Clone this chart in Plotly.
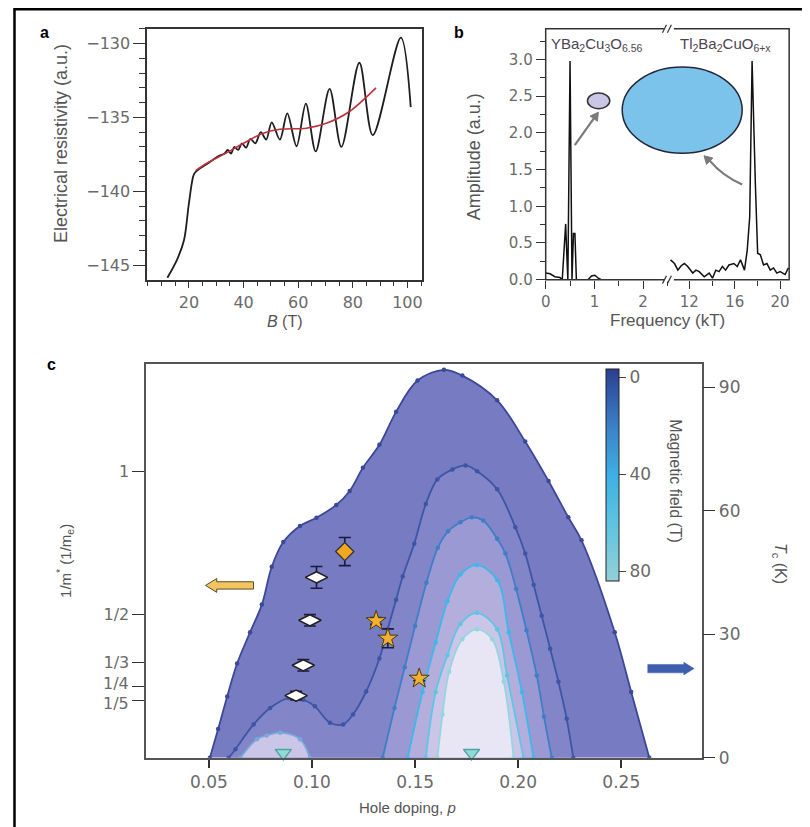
import math
import plotly.graph_objects as go

W, H = 810, 827
OFF = 8  # the page body margin shifts the figure by this many pixels
def X(px): return (px - OFF) / W
def Y(py): return 1 - (py - OFF) / H

# ---------------- data: panel a (resistivity vs field) ----------------
res_B = [12.1, 15.7, 18.2, 20.0, 21.8, 23.0, 27.0, 31.0, 33.0, 34.2, 35.4, 36.6, 38.0, 39.4, 40.9,
         42.5, 44.3, 46.3, 48.3, 50.3, 53.3, 56.0, 59.4, 62.8, 66.4, 71.5, 75.8, 82.4, 87.3, 97.6, 101.2]
res_val = [-145.85, -144.6, -143.3, -140.8, -138.85, -138.6, -138.1, -137.6, -137.45, -137.2, -137.45,
           -137.0, -137.2, -136.75, -137.05, -136.45, -136.75, -136.0, -136.5, -135.33, -136.5, -134.73,
           -136.95, -134.07, -137.3, -133.07, -137.0, -131.3, -136.2, -129.6, -134.3]
bg_B = [22.4, 27.0, 32.7, 40.0, 46.7, 53.3, 63.0, 70.3, 78.8, 88.5]
bg_val = [-138.6, -138.05, -137.5, -136.75, -136.1, -135.8, -135.73, -135.4, -134.6, -133.0]
a_xticks = [20, 40, 60, 80, 100]
a_yticks = [-145, -140, -135, -130]

# ---------------- data: panel b (FFT amplitude) ----------------
fft_lo_f = [0, 0.09, 0.19, 0.29, 0.34, 0.38, 0.41, 0.43, 0.455, 0.50, 0.54, 0.57, 0.60, 0.63,
            0.87, 0.94, 1.01, 1.08, 1.14, 2.6]
fft_lo_amp = [0.09, 0.08, 0.04, 0.03, 0.0, 0.40, 0.76, 0.40, 0.0, 2.98, 0.0, 0.63, 0.63, 0.0,
              0.0, 0.05, 0.06, 0.02, 0.0, 0.0]
fft_hi_f = [10.34, 10.69, 10.99, 11.28, 11.56, 11.86, 12.3, 12.58, 12.87, 13.31, 13.75, 14.04, 14.33,
            14.62, 14.91, 15.2, 15.49, 15.93, 16.22, 16.51, 16.86, 17.1, 17.32, 17.53, 17.82, 18.02,
            18.26, 18.54, 18.84, 19.13, 19.42, 19.71, 20.0, 20.44, 20.73]
fft_hi_amp = [0.27, 0.22, 0.13, 0.19, 0.22, 0.18, 0.09, 0.13, 0.11, 0.04, 0.09, 0.02, 0.13, 0.11, 0.18,
              0.13, 0.20, 0.22, 0.18, 0.27, 0.13, 0.40, 0.85, 2.98, 1.30, 0.36, 0.34, 0.20, 0.22, 0.13,
              0.16, 0.09, 0.11, 0.07, 0.16]
b_yticks = [0.0, 0.5, 1.0, 1.5, 2.0, 2.5, 3.0]
b_lo_ticks = [0, 1, 2]
b_hi_ticks = [12, 16, 20]

# ---------------- data: panel c (phase diagram) ----------------
c0_p = [0.0505, 0.0545, 0.0589, 0.0637, 0.0700, 0.0757, 0.0805, 0.0861, 0.0942, 0.1022, 0.1118, 0.1183,
        0.1247, 0.1327, 0.1408, 0.1512, 0.1640, 0.1729, 0.1898, 0.2034, 0.2147, 0.2243, 0.2307, 0.2468,
        0.2548, 0.2636]
c0_tc = [0, 7, 14.9, 22.9, 30.5, 37.2, 46.4, 52.4, 56.3, 58.3, 61.4, 64.8, 70.4, 76, 84, 91.6, 94.2,
         92.8, 86.8, 76.8, 67.2, 58.4, 52.8, 30.5, 16, 0]
c10_p = [0.0596, 0.0629, 0.0717, 0.0797, 0.0886, 0.0958, 0.1014, 0.1087, 0.1151, 0.1199, 0.1263, 0.1327,
         0.1367, 0.1408, 0.1440, 0.1496, 0.1552, 0.1608, 0.1681, 0.1745, 0.1801, 0.1898, 0.1986, 0.2034,
         0.2075, 0.2114, 0.2155, 0.2195, 0.2235, 0.2267]
c10_tc = [0, 2.1, 8.1, 12.1, 14.5, 14.1, 12.5, 8.5, 8.1, 10.5, 16.1, 24.1, 31.2, 38.4, 44, 52, 61.6,
          67.6, 70, 71, 69.6, 65.2, 56, 49.6, 42, 34.5, 26.5, 18.5, 9.5, 0]
c20_p = [0.1343, 0.1400, 0.1450, 0.1500, 0.1555, 0.1610, 0.1660, 0.1720, 0.1775, 0.1830, 0.1898,
         0.1938, 0.1990, 0.2040, 0.2090, 0.2125, 0.2163]
c20_tc = [0, 12.1, 22, 32, 42.5, 51, 55, 57.2, 58.4, 57.6, 53.2, 49.6, 41, 31, 20, 10, 0]
c20L_p = [0.0653, 0.0733, 0.0781, 0.0846, 0.0942, 0.0990]
c20L_tc = [0, 4.5, 5.4, 6.1, 4.5, 0]
c40_p = [0.1464, 0.1536, 0.1600, 0.1657, 0.1720, 0.1800, 0.1898, 0.1954, 0.2018, 0.2074]
c40_tc = [0, 16, 28, 38, 44.5, 46.8, 43.2, 30.5, 16, 0]
c60_p = [0.1552, 0.1600, 0.1657, 0.1720, 0.1800, 0.1898, 0.1946, 0.2026]
c60_tc = [0, 16, 24.9, 32.5, 35.2, 31.2, 20, 0]
c80_p = [0.1608, 0.1633, 0.1665, 0.1729, 0.1800, 0.1874, 0.1930, 0.1978]
c80_tc = [0, 10.5, 20.9, 28.8, 31.2, 28.8, 18.5, 0]

mass_p = [0.1022, 0.0990, 0.0958, 0.0923]          # white diamonds
mass_inv = [0.630, 0.480, 0.323, 0.217]
mass_err = [0.038, 0.02, 0.02, 0.015]
mass2_p = [0.1159]                                 # orange diamond
mass2_inv = [0.720]
mass2_err = [0.049]
star_p = [0.1311, 0.1368, 0.1520]                  # orange stars
star_inv = [0.478, 0.417, 0.277]
star_err = [0.012, 0.033, 0.008]
tri_p = [0.0861, 0.1774]                           # zero-Tc markers
tri_tc = [1.2, 1.2]

c_xticks = [0.05, 0.10, 0.15, 0.20, 0.25]
c_xlabels = ["0.05", "0.10", "0.15", "0.20", "0.25"]
tc_ticks = [0, 30, 60, 90]
m_ticks = [1, 1/2, 1/3, 1/4, 1/5]
m_labels = ["1", "1/2", "1/3", "1/4", "1/5"]
field_ticks = [0, 40, 80]

# ---------------- styles ----------------
TICKF = dict(family="DejaVu Sans", size=16, color="#6a6a6a")
TICKF_B = dict(family="DejaVu Sans", size=15, color="#6a6a6a")
TICKF_C = dict(family="DejaVu Sans", size=17, color="#6a6a6a")
TICKF_CL = dict(family="DejaVu Sans", size=16, color="#6a6a6a")
def TF(size): return dict(family="Liberation Sans", size=size, color="#555555")
AX = "#333333"

fig = go.Figure()

# panel a
fig.add_trace(go.Scatter(x=res_B, y=res_val, mode="lines", xaxis="x", yaxis="y",
                         line=dict(color="#1e1e1e", width=1.8, shape="spline", smoothing=0.9)))
fig.add_trace(go.Scatter(x=bg_B, y=bg_val, mode="lines", xaxis="x", yaxis="y",
                         line=dict(color="#c0303c", width=1.6, shape="spline", smoothing=0.8)))

# panel b
fig.add_trace(go.Scatter(x=fft_lo_f, y=fft_lo_amp, mode="lines", xaxis="x2", yaxis="y2",
                         line=dict(color="#111111", width=1.5)))
fig.add_trace(go.Scatter(x=fft_hi_f, y=fft_hi_amp, mode="lines", xaxis="x3", yaxis="y2",
                         line=dict(color="#111111", width=1.5)))

# panel c: contour fills (outside -> inside)
contours = [
    (c0_p, c0_tc, "#777bc2", "#3b4899"),
    (c10_p, c10_tc, "#8286c8", "#3c55a6"),
    (c20_p, c20_tc, "#9a99d3", "#3f7ec6"),
    (c20L_p, c20L_tc, "#cbc6e7", "#79a8dc"),
    (c40_p, c40_tc, "#b3aedc", "#3cb8ea"),
    (c60_p, c60_tc, "#cbc6e8", "#5cc6e4"),
    (c80_p, c80_tc, "#e8e5f5", "#93d6e0"),
]
for cp, ct, fc, lc in contours:
    fig.add_trace(go.Scatter(x=cp, y=ct, mode="lines", xaxis="x4", yaxis="y4", fill="toself",
                             fillcolor=fc, line=dict(width=0, shape="spline", smoothing=1.0),
                             hoverinfo="skip"))
for cp, ct, fc, lc in contours:
    fig.add_trace(go.Scatter(x=cp, y=ct, mode="lines+markers", xaxis="x4", yaxis="y4",
                             line=dict(color=lc, width=1.8, shape="spline", smoothing=1.0),
                             marker=dict(size=4.5, color=lc)))

# colour bar (magnetic field), drawn from an off-range dummy point
fig.add_trace(go.Scatter(x=[0.0], y=[-50], mode="markers", xaxis="x4", yaxis="y4",
                         marker=dict(size=1, color=[-40], cmin=-84.1, cmax=3.3,
                                     colorscale=[[0, "#93d0d6"], [0.28, "#5cc3e2"], [0.5, "#3db0e4"],
                                                 [0.73, "#3b80c8"], [1, "#2b3f8e"]],
                                     showscale=True,
                                     colorbar=dict(x=X(605), xanchor="left", y=Y(481), yanchor="middle",
                                                   lenmode="pixels", len=212, thicknessmode="pixels",
                                                   thickness=13, xpad=0, ypad=0, outlinewidth=1,
                                                   outlinecolor="#222222",
                                                   tickvals=[-v for v in field_ticks],
                                                   ticktext=[str(v) for v in field_ticks],
                                                   ticks="outside", ticklen=7, tickcolor="#444444",
                                                   tickfont=TICKF_C))))

fig.add_trace(go.Scatter(x=tri_p, y=tri_tc, mode="markers", xaxis="x4", yaxis="y4", cliponaxis=False,
                         marker=dict(symbol="triangle-down", size=14, color="#95dad2",
                                     line=dict(color="#4aa6a6", width=1.5))))

fig.add_trace(go.Scatter(x=mass_p, y=mass_inv, mode="markers", xaxis="x4", yaxis="y5",
                         error_y=dict(type="data", array=mass_err, color="#1a1a40", thickness=1.6, width=6),
                         marker=dict(symbol="diamond-wide", size=16, color="white",
                                     line=dict(color="#222222", width=1.6))))
fig.add_trace(go.Scatter(x=mass2_p, y=mass2_inv, mode="markers", xaxis="x4", yaxis="y5",
                         error_y=dict(type="data", array=mass2_err, color="#1a1a40", thickness=1.6, width=6),
                         marker=dict(symbol="diamond", size=14, color="#f0a820",
                                     line=dict(color="#333333", width=1.3))))
fig.add_trace(go.Scatter(x=star_p, y=star_inv, mode="markers", xaxis="x4", yaxis="y5",
                         error_y=dict(type="data", array=star_err, color="#1a1a40", thickness=1.6, width=6),
                         marker=dict(symbol="star", size=15, color="#f2b02c",
                                     line=dict(color="#4a3a10", width=1))))

# ---------------- layout / axes ----------------
dom_top = [Y(283), Y(29)]
layout = dict(
    width=W, height=H, margin=dict(l=0, r=0, t=0, b=0),
    paper_bgcolor="white", plot_bgcolor="white", showlegend=False,
    xaxis=dict(domain=[X(143), X(420)], anchor="y", range=[4.7, 105.5], tickvals=a_xticks,
               ticks="outside", ticklen=7, tickwidth=1.3, tickcolor=AX, showline=True, mirror=True,
               linecolor=AX, linewidth=1.5, showgrid=False, zeroline=False, tickfont=TICKF,
               minor=dict(dtick=5, ticks="outside", ticklen=5, tickcolor=AX, showgrid=False)),
    yaxis=dict(domain=dom_top, anchor="x", range=[-145.98, -129.0], tickvals=a_yticks,
               ticks="outside", ticklen=12, tickwidth=1.3, tickcolor=AX, showline=True, mirror=True,
               linecolor=AX, linewidth=1.5, showgrid=False, zeroline=False, tickfont=TICKF,
               minor=dict(dtick=1, ticks="outside", ticklen=6, tickcolor=AX, showgrid=False)),
    xaxis2=dict(domain=[X(544), X(668)], anchor="y2", range=[0, 2.53], tickvals=b_lo_ticks,
                ticks="outside", ticklen=8, tickcolor=AX, showline=False, showgrid=False,
                zeroline=False, tickfont=TICKF_B,
                minor=dict(dtick=0.5, ticks="outside", ticklen=5, tickcolor=AX, showgrid=False)),
    xaxis3=dict(domain=[X(668), X(789)], anchor="y2", range=[10.2, 20.8], tickvals=b_hi_ticks,
                ticks="outside", ticklen=8, tickcolor=AX, showline=False, showgrid=False,
                zeroline=False, tickfont=TICKF_B,
                minor=dict(tickvals=[14, 18], ticks="outside", ticklen=5, tickcolor=AX, showgrid=False)),
    yaxis2=dict(domain=dom_top, anchor="x2", range=[0, 3.42], tickvals=b_yticks,
                ticktext=["%.1f" % v for v in b_yticks], ticks="outside", ticklen=9, tickcolor=AX,
                showline=False, showgrid=False, zeroline=False, tickfont=TICKF_B,
                minor=dict(dtick=0.25, ticks="outside", ticklen=5, tickcolor=AX, showgrid=False)),
    xaxis4=dict(domain=[X(142), X(701)], anchor="y4", range=[0.0196, 0.2890], tickvals=c_xticks,
                ticktext=c_xlabels, ticks="outside", ticklen=8, tickwidth=1.5, tickcolor=AX,
                showline=True, mirror=True, linecolor="#555555", linewidth=1.8, showgrid=False,
                zeroline=False, tickfont=TICKF_C),
    yaxis4=dict(domain=[Y(767), Y(368)], anchor="x4", side="right", range=[0, 95.7], tickvals=tc_ticks,
                ticks="outside", ticklen=12, tickcolor=AX, showline=True, linecolor="#555555",
                linewidth=1.5, showgrid=False, zeroline=False, tickfont=TICKF_C),
    yaxis5=dict(overlaying="y4", anchor="x4", side="left", range=[0, 1.376], tickvals=m_ticks[:3],
                ticktext=m_labels[:3], ticks="outside", ticklen=12, tickcolor=AX,
                showline=True, linecolor="#555555", linewidth=1.5, showgrid=False, zeroline=False,
                tickfont=TICKF_CL,
                minor=dict(tickvals=m_ticks[3:], ticks="outside", ticklen=12, tickcolor=AX,
                           showgrid=False)),
)
fig.update_layout(**layout)

shapes = []
# outer frame (left and top edges visible)
shapes.append(dict(type="rect", xref="paper", yref="paper", x0=X(9.5), x1=X(840), y0=Y(880), y1=Y(9.2),
                   line=dict(color="black", width=2.5), layer="above"))
# panel b box
shapes.append(dict(type="rect", xref="paper", yref="paper", x0=X(544), x1=X(789), y0=Y(283), y1=Y(29),
                   line=dict(color=AX, width=1.5), layer="above"))
# axis-break marks
for yb in (29, 283):
    shapes.append(dict(type="rect", xref="paper", yref="paper", x0=X(663), x1=X(673), y0=Y(yb + 2),
                       y1=Y(yb - 2), fillcolor="white", line=dict(width=0), layer="above"))
    for dx in (-2.5, 2.5):
        shapes.append(dict(type="line", xref="paper", yref="paper", x0=X(666 + dx - 2), y0=Y(yb + 4),
                           x1=X(666 + dx + 2), y1=Y(yb - 4), line=dict(color=AX, width=1.2), layer="above"))
# ellipses in panel b
shapes.append(dict(type="circle", xref="paper", yref="paper", x0=X(586), x1=X(608.5), y0=Y(110), y1=Y(94),
                   fillcolor="#cac6e6", line=dict(color="#333333", width=1.5), layer="above"))
shapes.append(dict(type="circle", xref="paper", yref="paper", x0=X(621), x1=X(741.7), y0=Y(155),
                   y1=Y(67.7), fillcolor="#7cc3ec", line=dict(color="#22263a", width=1.5), layer="above"))

# grey arrows from the FFT peaks to the pockets (one straight, one curved)
def arrow_head(tip, frm, size=8, half=4.5):
    dx, dy = tip[0] - frm[0], tip[1] - frm[1]
    n = math.hypot(dx, dy)
    ux, uy = dx / n, dy / n
    bx, by = tip[0] - ux * size, tip[1] - uy * size
    p1 = (bx - uy * half, by + ux * half)
    p2 = (bx + uy * half, by - ux * half)
    return "M %f,%f L %f,%f L %f,%f Z" % (X(tip[0]), Y(tip[1]), X(p1[0]), Y(p1[1]), X(p2[0]), Y(p2[1]))

GREY = "#7a7a7a"
shapes.append(dict(type="line", xref="paper", yref="paper", x0=X(573.3), y0=Y(146.7), x1=X(593), y1=Y(119),
                   line=dict(color=GREY, width=2.2), layer="above"))
shapes.append(dict(type="path", xref="paper", yref="paper", path=arrow_head((597, 113.5), (573.3, 146.7)),
                   fillcolor=GREY, line=dict(color=GREY, width=1), layer="above"))
shapes.append(dict(type="path", xref="paper", yref="paper",
                   path="M %f,%f Q %f,%f %f,%f" % (X(741.7), Y(186.7), X(722), Y(178), X(709), Y(162.5)),
                   line=dict(color=GREY, width=2.2), layer="above"))
shapes.append(dict(type="path", xref="paper", yref="paper", path=arrow_head((703.3, 157.5), (712, 166)),
                   fillcolor=GREY, line=dict(color=GREY, width=1), layer="above"))

# yellow (left) arrow and blue (right) arrow in panel c
ya = [(201.7, 592.5), (213, 585.5), (213, 588.8), (250, 588.8), (250, 596.2), (213, 596.2), (213, 599.5)]
shapes.append(dict(type="path", xref="paper", yref="paper",
                   path="M " + " L ".join("%f,%f" % (X(a), Y(b)) for a, b in ya) + " Z",
                   fillcolor="#f4c45e", line=dict(color="#5a4a2a", width=1), layer="above"))
ba = [(693.3, 676.7), (683, 670.3), (683, 672.5), (646.7, 672.5), (646.7, 681), (683, 681), (683, 683.1)]
shapes.append(dict(type="path", xref="paper", yref="paper",
                   path="M " + " L ".join("%f,%f" % (X(a), Y(b)) for a, b in ba) + " Z",
                   fillcolor="#3e5fae", line=dict(color="#3e5fae", width=0.5), layer="above"))
fig.update_layout(shapes=shapes)

ann = []
def txt(px, py, s, font, angle=0, xanchor="center"):
    ann.append(dict(x=X(px), y=Y(py), xref="paper", yref="paper", text=s, showarrow=False,
                    font=font, textangle=angle, xanchor=xanchor, yanchor="middle"))

LBL = dict(family="Liberation Sans", size=16, color="black")
txt(40, 33, "<b>a</b>", LBL)
txt(457, 33, "<b>b</b>", LBL)
txt(47, 369, "<b>c</b>", LBL)
txt(57, 145, "Electrical resistivity (a.u.)", TF(18), -90)
txt(282, 325, "<i>B</i> (T)", TF(16))
txt(472, 159, "Amplitude (a.u.)", TF(18), -90)
txt(667, 324, "Frequency (kT)", TF(17))
CHEM = dict(family="Liberation Sans", size=15, color="#4d4452")
txt(547, 45, "YBa<sub>2</sub>Cu<sub>3</sub>O<sub>6.56</sub>", CHEM, 0, "left")
txt(677, 45, "Tl<sub>2</sub>Ba<sub>2</sub>CuO<sub>6+x</sub>", CHEM, 0, "left")
txt(405, 817, "Hole doping, <i>p</i>", TF(15))
txt(60, 568, "1/m<sup>*</sup> (1/m<sub>e</sub>)", TF(15), -90)
txt(780, 570, "<i>T</i><sub>c</sub> (K)", TF(16), 90)
txt(675, 487, "Magnetic field (T)", TF(16), 90)
# the two closely spaced left-axis labels of panel c, nudged apart as in the original
txt(127, 691.5, m_labels[3], TICKF_CL, 0, "right")
txt(127, 712, m_labels[4], TICKF_CL, 0, "right")
fig.update_layout(annotations=ann)

fig.write_html("out.html")
